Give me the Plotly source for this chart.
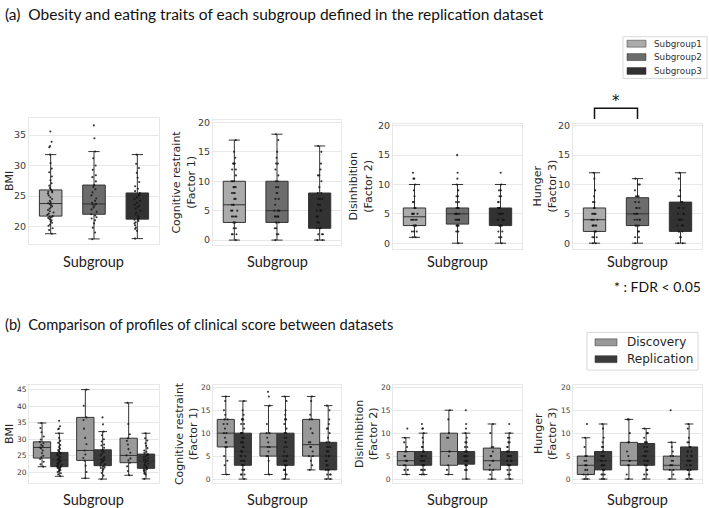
import plotly.graph_objects as go

W, H = 709, 508

subgroups = ["Subgroup1", "Subgroup2", "Subgroup3"]
datasets = ["Discovery", "Replication"]

# ---------------- Replication dataset (panel a and panel b, dark boxes) ----------------
rep_bmi_q1 = [21.7, 22.0, 21.2]
rep_bmi_med = [23.76, 23.7, 23.4]
rep_bmi_q3 = [26.0, 26.8, 25.5]
rep_bmi_lo = [18.8, 17.95, 18.0]
rep_bmi_hi = [31.8, 32.3, 31.8]
rep_bmi_s1 = [18.8, 19.4, 19.7, 20.1, 20.3, 20.6, 20.8, 21.0, 21.2, 21.4, 21.5, 21.6, 21.7, 21.9,
              22.1, 22.3, 22.5, 22.7, 22.9, 23.1, 23.3, 23.5, 23.7, 23.8, 24.0, 24.2, 24.5, 24.8,
              25.1, 25.4, 25.6, 25.7, 25.8, 26.0, 26.3, 26.7, 27.1, 27.6, 28.2, 28.9, 29.5, 30.4,
              31.8, 33.0, 33.2, 33.9, 35.6]
rep_bmi_s2 = [17.9, 19.0, 19.8, 20.5, 21.0, 21.3, 21.5, 21.8, 22.0, 22.4, 22.8, 23.1, 23.4, 23.6,
              23.7, 23.9, 24.2, 24.6, 25.1, 25.6, 26.1, 26.5, 26.8, 27.4, 28.1, 28.4, 29.3, 30.0,
              31.2, 32.3, 34.5, 36.6]
rep_bmi_s3 = [18.0, 19.3, 19.6, 19.8, 20.2, 20.5, 20.7, 20.9, 21.1, 21.2, 21.4, 21.7, 22.0, 22.3,
              22.6, 22.9, 23.2, 23.4, 23.6, 23.9, 24.2, 24.5, 24.8, 25.1, 25.3, 25.5, 25.8, 26.2,
              26.6, 27.3, 28.0, 28.8, 29.6, 30.3, 31.8]

rep_cr_q1 = [3, 3, 2]
rep_cr_med = [6, 5, 5]
rep_cr_q3 = [10, 10, 8]
rep_cr_lo = [0, 0, 0]
rep_cr_hi = [17, 18, 16]
rep_cr_s1 = [0, 1, 1, 1, 2, 2, 3, 3, 3, 4, 4, 4, 4, 5, 5, 5, 6, 6, 6, 7, 7, 8, 8, 8, 9, 9, 9,
             10, 10, 10, 11, 12, 12, 13, 13, 13, 14, 15, 17]
rep_cr_s2 = [0, 1, 1, 2, 2, 3, 3, 3, 4, 4, 4, 4, 4, 5, 5, 5, 6, 7, 7, 8, 8, 9, 9, 10, 10, 11,
             12, 13, 13, 14, 15, 17, 18]
rep_cr_s3 = [0, 0, 1, 1, 1, 2, 2, 2, 3, 3, 3, 4, 4, 4, 5, 5, 5, 5, 6, 6, 6, 7, 7, 7, 8, 8, 9,
             10, 11, 11, 12, 13, 15, 16]

rep_dis_q1 = [3, 3.25, 3]
rep_dis_med = [4.5, 5, 4]
rep_dis_q3 = [6, 6, 6]
rep_dis_lo = [1, 0, 0]
rep_dis_hi = [10, 10, 10]
rep_dis_s1 = [1, 1, 2, 2, 2, 3, 3, 3, 3, 4, 4, 4, 4, 4, 5, 5, 5, 5, 5, 6, 6, 6, 7, 7, 8, 9, 10,
              11, 11, 12]
rep_dis_s2 = [0, 2, 2, 3, 3, 3, 3, 4, 4, 4, 4, 4, 5, 5, 5, 5, 5, 5, 6, 6, 6, 6, 7, 7, 8, 8, 9,
              10, 11, 12, 15]
rep_dis_s3 = [0, 1, 1, 2, 2, 3, 3, 3, 3, 4, 4, 4, 4, 4, 5, 5, 5, 5, 6, 6, 6, 6, 7, 7, 8, 8, 9,
              9, 10, 12]

rep_hun_q1 = [2, 3, 2]
rep_hun_med = [4, 5, 4]
rep_hun_q3 = [6, 7.75, 7]
rep_hun_lo = [0, 0, 0]
rep_hun_hi = [12, 11, 12]
rep_hun_s1 = [0, 0, 1, 1, 1, 2, 2, 2, 3, 3, 3, 3, 3, 4, 4, 4, 4, 5, 5, 5, 5, 6, 6, 7, 7, 8, 9,
              11, 12]
rep_hun_s2 = [0, 1, 1, 2, 2, 3, 3, 3, 4, 4, 4, 4, 5, 5, 5, 6, 6, 6, 7, 7, 8, 8, 8, 9, 10, 10, 11]
rep_hun_s3 = [0, 0, 1, 1, 2, 2, 2, 3, 3, 3, 4, 4, 4, 4, 5, 5, 5, 6, 6, 6, 7, 7, 8, 8, 9, 11, 12]

# ---------------- Discovery dataset (panel b, light boxes) ----------------
disc_bmi_q1 = [24.3, 23.6, 22.9]
disc_bmi_med = [27.5, 26.6, 25.1]
disc_bmi_q3 = [29.2, 36.6, 30.3]
disc_bmi_lo = [21.7, 18.2, 19.1]
disc_bmi_hi = [34.9, 45.0, 41.0]
disc_bmi_s1 = [21.7, 22.4, 23.2, 24.0, 24.5, 25.0, 25.8, 26.6, 27.2, 27.5, 27.9, 28.3, 28.8,
               29.2, 29.9, 30.8, 32.1, 33.4, 34.9]
disc_bmi_s2 = [18.2, 20.1, 22.0, 23.5, 24.3, 25.4, 26.6, 28.5, 30.4, 33.2, 35.8, 36.6, 40.1, 45.0]
disc_bmi_s3 = [19.1, 20.4, 21.8, 22.9, 23.6, 24.2, 25.1, 25.9, 27.0, 28.4, 29.5, 30.3, 31.5,
               34.6, 41.0]

disc_cr_q1 = [7, 5, 5]
disc_cr_med = [10, 7, 7.5]
disc_cr_q3 = [13, 10, 13]
disc_cr_lo = [1, 1, 2]
disc_cr_hi = [18, 16, 18]
disc_cr_s1 = [1, 3, 4, 5, 7, 7, 8, 8, 9, 10, 10, 11, 12, 12, 13, 13, 14, 15, 17, 18]
disc_cr_s2 = [1, 4, 5, 5, 6, 7, 7, 8, 9, 10, 10, 12, 16, 18, 19]
disc_cr_s3 = [2, 3, 4, 5, 5, 6, 7, 7, 8, 8, 10, 11, 13, 13, 14, 17, 18]

disc_dis_q1 = [3, 3, 2]
disc_dis_med = [4, 6, 4]
disc_dis_q3 = [6, 10, 6.75]
disc_dis_lo = [1, 1, 0]
disc_dis_hi = [9, 15, 12]
disc_dis_s1 = [1, 2, 2, 3, 3, 4, 4, 4, 5, 5, 6, 6, 7, 8, 9, 11]
disc_dis_s2 = [1, 2, 3, 5, 6, 6, 9, 9, 10, 13, 15]
disc_dis_s3 = [0, 1, 2, 2, 3, 4, 4, 5, 5, 6, 7, 7, 10, 12]

disc_hun_q1 = [1, 3, 2]
disc_hun_med = [3, 4, 3]
disc_hun_q3 = [5, 8, 5]
disc_hun_lo = [0, 0, 0]
disc_hun_hi = [9, 13, 8]
disc_hun_s1 = [0, 0, 1, 1, 2, 2, 3, 3, 3, 4, 4, 5, 5, 7, 9, 12]
disc_hun_s2 = [0, 1, 3, 3, 4, 4, 5, 6, 8, 8, 10, 13, 13]
disc_hun_s3 = [0, 1, 2, 2, 3, 3, 3, 4, 4, 5, 5, 6, 7, 8, 15]

y_titles = ["BMI", "Cognitive restraint<br>(Factor 1)", "Disinhibition<br>(Factor 2)",
            "Hunger<br>(Factor 3)"]
x_title = "Subgroup"
sub_colors = ["#ababab", "#6c6c6c", "#323232"]
set_colors = ["#999999", "#3b3b3b"]
edge = "#333333"

rep = {
    "bmi": (rep_bmi_q1, rep_bmi_med, rep_bmi_q3, rep_bmi_lo, rep_bmi_hi, [rep_bmi_s1, rep_bmi_s2, rep_bmi_s3]),
    "cr": (rep_cr_q1, rep_cr_med, rep_cr_q3, rep_cr_lo, rep_cr_hi, [rep_cr_s1, rep_cr_s2, rep_cr_s3]),
    "dis": (rep_dis_q1, rep_dis_med, rep_dis_q3, rep_dis_lo, rep_dis_hi, [rep_dis_s1, rep_dis_s2, rep_dis_s3]),
    "hun": (rep_hun_q1, rep_hun_med, rep_hun_q3, rep_hun_lo, rep_hun_hi, [rep_hun_s1, rep_hun_s2, rep_hun_s3]),
}
disc = {
    "bmi": (disc_bmi_q1, disc_bmi_med, disc_bmi_q3, disc_bmi_lo, disc_bmi_hi, [disc_bmi_s1, disc_bmi_s2, disc_bmi_s3]),
    "cr": (disc_cr_q1, disc_cr_med, disc_cr_q3, disc_cr_lo, disc_cr_hi, [disc_cr_s1, disc_cr_s2, disc_cr_s3]),
    "dis": (disc_dis_q1, disc_dis_med, disc_dis_q3, disc_dis_lo, disc_dis_hi, [disc_dis_s1, disc_dis_s2, disc_dis_s3]),
    "hun": (disc_hun_q1, disc_hun_med, disc_hun_q3, disc_hun_lo, disc_hun_hi, [disc_hun_s1, disc_hun_s2, disc_hun_s3]),
}
metrics = ["bmi", "cr", "dis", "hun"]

# ---------------- layout geometry (pixels) ----------------
row_a_x = [(29, 159), (213, 341), (393, 522), (573, 702)]
row_a_y = [(115, 242), (117, 243), (121, 247), (121, 247)]
row_a_rng = [[17.1, 37.8], [-0.85, 20.4], [-1.0, 20.3], [-1.0, 20.3]]
row_b_x = [(29, 159), (213, 341), (393, 522), (573, 702)]
row_b_y = [(384, 483)] * 4
row_b_rng = [[16.7, 46.4], [-0.9, 20.5], [-0.9, 20.5], [-0.9, 20.5]]
ytitle_a_x = [9, 184, 361, 545]
ytitle_b_x = [9, 186, 366, 545]


def px_x(v):
    return v / W


def px_y(v):
    return 1 - v / H


fig = go.Figure()
transparent = "rgba(0,0,0,0)"
pt_marker = dict(color="#151515", size=2.1, opacity=0.85, line=dict(width=0))

# Row (a)
for k, m in enumerate(metrics):
    xa, ya = "x%d" % (k + 1), "y%d" % (k + 1)
    q1, med, q3, lo, hi, pts = rep[m]
    for i, sg in enumerate(subgroups):
        fig.add_trace(go.Box(
            x=[sg], q1=[q1[i]], median=[med[i]], q3=[q3[i]], lowerfence=[lo[i]], upperfence=[hi[i]],
            fillcolor=sub_colors[i], line=dict(color=edge, width=1), whiskerwidth=0.5,
            width=0.52, boxpoints=False, xaxis=xa, yaxis=ya, showlegend=False, hoverinfo="skip"))
    xs, ys = [], []
    for i, sg in enumerate(subgroups):
        xs += [sg] * len(pts[i])
        ys += pts[i]
    fig.add_trace(go.Box(
        x=xs, y=ys, boxpoints="all", jitter=0.3, pointpos=0, width=0.52,
        fillcolor=transparent, line=dict(color=transparent, width=0), marker=pt_marker,
        xaxis=xa, yaxis=ya, showlegend=False, hoverinfo="skip"))

# Row (b)
for k, m in enumerate(metrics):
    xa, ya = "x%d" % (k + 5), "y%d" % (k + 5)
    for j, (name, src) in enumerate([("Discovery", disc), ("Replication", rep)]):
        q1, med, q3, lo, hi, pts = src[m]
        fig.add_trace(go.Box(
            x=subgroups, q1=q1, median=med, q3=q3, lowerfence=lo, upperfence=hi,
            fillcolor=set_colors[j], line=dict(color=edge, width=1), whiskerwidth=0.5,
            offsetgroup=name, boxpoints=False, xaxis=xa, yaxis=ya, showlegend=False,
            hoverinfo="skip"))
        xs, ys = [], []
        for i, sg in enumerate(subgroups):
            xs += [sg] * len(pts[i])
            ys += pts[i]
        fig.add_trace(go.Box(
            x=xs, y=ys, boxpoints="all", jitter=0.3, pointpos=0, offsetgroup=name,
            fillcolor=transparent, line=dict(color=transparent, width=0), marker=pt_marker,
            xaxis=xa, yaxis=ya, showlegend=False, hoverinfo="skip"))

layout = dict(
    width=W, height=H, margin=dict(l=0, r=0, t=0, b=0),
    paper_bgcolor="white", plot_bgcolor="white",
    boxmode="group", boxgap=0.2, boxgroupgap=0.0,
    font=dict(family="DejaVu Sans", color="#262626"),
)
grid = "#e8e8e8"
for k in range(8):
    if k < 4:
        x0, x1 = row_a_x[k]
        t0, t1 = row_a_y[k]
        rng = row_a_rng[k]
        tfs = 9.5
    else:
        x0, x1 = row_b_x[k - 4]
        t0, t1 = row_b_y[k - 4]
        rng = row_b_rng[k - 4]
        tfs = 7.5
    sfx = "" if k == 0 else str(k + 1)
    layout["xaxis" + sfx] = dict(
        domain=[px_x(x0), px_x(x1)], anchor="y" + str(k + 1), type="category",
        categoryorder="array", categoryarray=subgroups, range=[-0.5, 2.5],
        showticklabels=False, ticks="", showgrid=False, zeroline=False,
        showline=True, linecolor=grid, linewidth=1, mirror=True, fixedrange=True)
    layout["yaxis" + sfx] = dict(
        domain=[px_y(t1), px_y(t0)], anchor="x" + str(k + 1), range=rng, dtick=5,
        showgrid=True, gridcolor=grid, gridwidth=1, zeroline=False, ticks="",
        showline=True, linecolor=grid, linewidth=1, mirror=True,
        tickfont=dict(size=tfs, color="#3a3a3a"), fixedrange=True)

annotations = []
shapes = []
annotations.append(dict(text="(a)\u00a0 Obesity and eating traits of each subgroup defined in the replication dataset",
                        x=px_x(3), y=px_y(10), xref="paper", yref="paper", xanchor="left",
                        yanchor="middle", showarrow=False,
                        font=dict(family="Lato", size=15.5, color="#111111")))
annotations.append(dict(text="(b)\u00a0 Comparison of profiles of clinical score between datasets",
                        x=px_x(3), y=px_y(323), xref="paper", yref="paper", xanchor="left",
                        yanchor="middle", showarrow=False,
                        font=dict(family="Lato", size=14.7, color="#111111")))

for k in range(4):
    for row_x, row_y, ytx, xt_y in [(row_a_x, row_a_y, ytitle_a_x, 260), (row_b_x, row_b_y, ytitle_b_x, 499)]:
        x0, x1 = row_x[k]
        t0, t1 = row_y[k]
        annotations.append(dict(text=x_title, x=px_x((x0 + x1) / 2), y=px_y(xt_y), xref="paper",
                                yref="paper", xanchor="center", yanchor="middle", showarrow=False,
                                font=dict(family="Lato", size=14.5, color="#222222")))
        annotations.append(dict(text=y_titles[k], x=px_x(ytx[k]), y=px_y((t0 + t1) / 2),
                                xref="paper", yref="paper", xanchor="center", yanchor="middle",
                                textangle=-90, showarrow=False,
                                font=dict(family="DejaVu Sans", size=11, color="#262626")))

# significance bracket between Subgroup1 and Subgroup2 (Hunger, panel a)
shapes.append(dict(type="path", xref="x4 domain", yref="paper",
                   path="M %f,%f L %f,%f L %f,%f L %f,%f" % (1 / 6, px_y(116), 1 / 6, px_y(105),
                                                              0.5, px_y(105), 0.5, px_y(116)),
                   line=dict(color="#111111", width=1.5)))
annotations.append(dict(text="*", x=1 / 3, y=px_y(98), xref="x4 domain", yref="paper",
                        xanchor="center", yanchor="middle", showarrow=False,
                        font=dict(family="DejaVu Sans", size=15, color="#111111")))
annotations.append(dict(text="* : FDR < 0.05", x=px_x(657), y=px_y(285), xref="paper", yref="paper",
                        xanchor="center", yanchor="middle", showarrow=False,
                        font=dict(family="Lato", size=14, color="#111111")))

# legend (a)
shapes.append(dict(type="rect", xref="paper", yref="paper", x0=px_x(623), x1=px_x(707),
                   y0=px_y(75), y1=px_y(33), line=dict(color="#d8d8d8", width=1), fillcolor="white"))
for i, sg in enumerate(subgroups):
    cy = [40, 53.5, 67.5][i]
    shapes.append(dict(type="rect", xref="paper", yref="paper", x0=px_x(627), x1=px_x(646),
                       y0=px_y(cy + 3.5), y1=px_y(cy - 3.5), line=dict(color=edge, width=0.5),
                       fillcolor=sub_colors[i]))
    annotations.append(dict(text=sg, x=px_x(652), y=px_y(cy), xref="paper", yref="paper",
                            xanchor="left", yanchor="middle", showarrow=False,
                            font=dict(family="DejaVu Sans", size=8.8, color="#333333")))
# legend (b)
shapes.append(dict(type="rect", xref="paper", yref="paper", x0=px_x(587), x1=px_x(698),
                   y0=px_y(369), y1=px_y(331), line=dict(color="#d8d8d8", width=1), fillcolor="white"))
for j, ds in enumerate(datasets):
    cy = [341, 358][j]
    shapes.append(dict(type="rect", xref="paper", yref="paper", x0=px_x(595), x1=px_x(617),
                       y0=px_y(cy + 3.5), y1=px_y(cy - 3.5), line=dict(color=edge, width=0.5),
                       fillcolor=set_colors[j]))
    annotations.append(dict(text=ds, x=px_x(625), y=px_y(cy), xref="paper", yref="paper",
                            xanchor="left", yanchor="middle", showarrow=False,
                            font=dict(family="DejaVu Sans", size=12, color="#262626")))

layout["annotations"] = annotations
layout["shapes"] = shapes
fig.update_layout(**layout)
fig.write_html("out.html", config={"displayModeBar": False},
               post_script="document.body.style.margin='0px';document.body.style.overflow='hidden';")
